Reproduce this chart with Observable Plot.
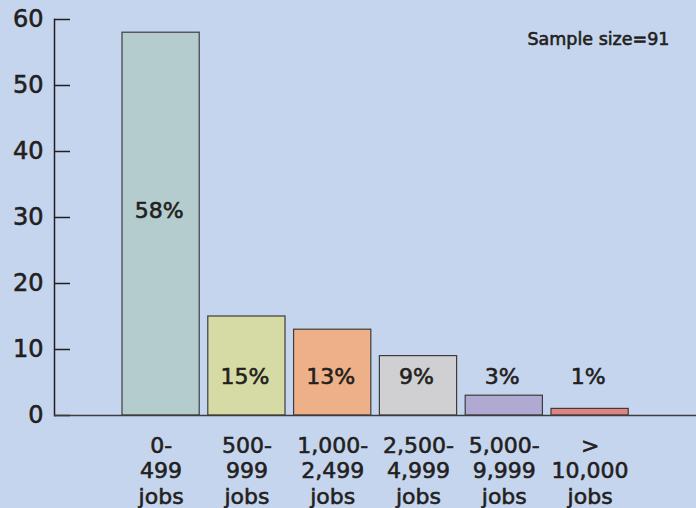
<!DOCTYPE html>
<html>
<head>
<meta charset="utf-8">
<script src="https://cdn.jsdelivr.net/npm/d3@7"></script>
<script src="https://cdn.jsdelivr.net/npm/@observablehq/plot@0.6"></script>
<style>
  html, body { margin: 0; padding: 0; background: #c6d5ee; }
  #chart { width: 696px; height: 508px; }
  svg { font-family: "DejaVu Sans", sans-serif; }
  svg text { stroke: #231f20; stroke-width: 0.6px; }
</style>
</head>
<body>
<div id="chart"></div>
<script>
// Company size bands (number of jobs) and the share of respondents in each
const categories = ["0-499", "500-999", "1,000-2,499", "2,500-4,999", "5,000-9,999", ">10,000"];
const tickLabels = ["0-\n499\njobs", "500-\n999\njobs", "1,000-\n2,499\njobs", "2,500-\n4,999\njobs", "5,000-\n9,999\njobs", ">\n10,000\njobs"];
const shares = [58, 15, 13, 9, 3, 1];
const yTicks = [0, 10, 20, 30, 40, 50, 60];
const barColors = ["#b4cccd", "#d6dba6", "#eeb088", "#d0d0d2", "#b0a9d1", "#e08582"];
const sampleNote = "Sample size=91";

const rows = categories.map((c, i) => ({category: c, share: shares[i], label: tickLabels[i]}));
const labelOf = new Map(rows.map(d => [d.category, d.label]));

const W = 696, H = 508;
const ink = "#231f20";

const chart = Plot.plot({
  width: W,
  height: H,
  marginLeft: 54,
  marginRight: 0,
  marginTop: 19,
  marginBottom: 93,
  style: {background: "#c6d5ee", color: ink, fontFamily: "DejaVu Sans, sans-serif"},
  x: {domain: categories, range: [117.7, 632.5], paddingInner: 0.1, paddingOuter: 0.05, round: false},
  y: {domain: [0, 60]},
  color: {domain: categories, range: barColors},
  marks: [
    Plot.barY(rows, {x: "category", y: "share", fill: "category", stroke: "#3d3d3d", strokeWidth: 1.2}),
    // left axis line and inward ticks
    Plot.frame({anchor: "left", stroke: ink, strokeWidth: 1.5}),
    Plot.ruleY(yTicks, {y: d => d, insetRight: W - 54 - 16, stroke: ink, strokeWidth: 1.5}),
    Plot.ruleY([0], {stroke: "#3d3d3d", strokeWidth: 1.5}),
    Plot.axisY({ticks: yTicks, tickSize: 0, tickPadding: 11, fontSize: 24, fill: ink, label: null}),
    Plot.axisX({
      tickSize: 0,
      tickPadding: 19,
      fontSize: 22,
      lineHeight: 1.16,
      fill: ink,
      label: null,
      tickFormat: c => labelOf.get(c)
    }),
    // value labels: centred in the tall bar, along a common line for the rest
    Plot.text(rows, {
      x: "category",
      y: d => d.share > 20 ? d.share / 2 + 2 : 5.8,
      text: d => `${d.share}%`,
      dx: -2,
      fontSize: 22,
      fill: ink
    }),
    Plot.text([sampleNote], {
      frameAnchor: "top-right",
      text: d => d,
      dx: -27,
      dy: 13,
      textAnchor: "end",
      fontSize: 17.5,
      fill: ink
    })
  ]
});

document.getElementById("chart").appendChild(chart);
</script>
</body>
</html>
